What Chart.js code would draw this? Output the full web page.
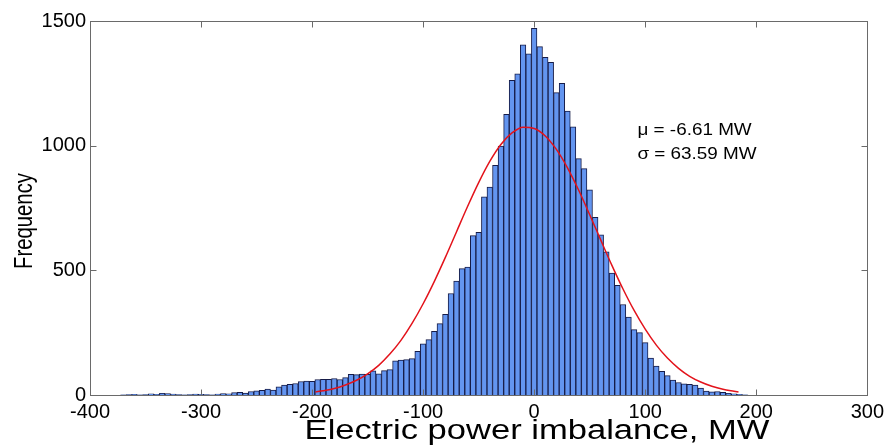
<!DOCTYPE html>
<html>
<head>
<meta charset="utf-8">
<title>Electric power imbalance histogram</title>
<script src="https://cdn.jsdelivr.net/npm/chart.js@4.4.1/dist/chart.umd.min.js"></script>
<style>
    body { margin: 0; background: #fff; }
    #wrap { width: 889px; height: 446px; }
</style>
</head>
<body>
<div id="wrap"><canvas id="myChart" width="889" height="446"></canvas></div>
<script>
// histogram bins (centre, MW) and counts
const binCenters = [
    -370, -365, -360, -355, -350, -345, -340, -335, -330, -325,
    -320, -315, -310, -305, -300, -295, -290, -285, -280, -275,
    -270, -265, -260, -255, -250, -245, -240, -235, -230, -225,
    -220, -215, -210, -205, -200, -195, -190, -185, -180, -175,
    -170, -165, -160, -155, -150, -145, -140, -135, -130, -125,
    -120, -115, -110, -105, -100, -95, -90, -85, -80, -75,
    -70, -65, -60, -55, -50, -45, -40, -35, -30, -25,
    -20, -15, -10, -5, 0, 5, 10, 15, 20, 25,
    30, 35, 40, 45, 50, 55, 60, 65, 70, 75,
    80, 85, 90, 95, 100, 105, 110, 115, 120, 125,
    130, 135, 140, 145, 150, 155, 160, 165, 170, 175,
    180, 185, 190
];
const binCounts = [
    1, 2, 3, 1, 2, 5, 3, 7, 6, 4,
    2, 1, 2, 4, 3, 2, 1, 4, 6, 5,
    10, 11, 8, 14, 17, 19, 24, 20, 33, 40,
    43, 46, 54, 56, 55, 62, 63, 63, 66, 62,
    70, 83, 82, 84, 83, 97, 85, 98, 102, 137,
    140, 142, 146, 175, 205, 222, 255, 286, 324, 407,
    457, 507, 513, 639, 652, 795, 834, 921, 998, 1126,
    1262, 1288, 1404, 1368, 1471, 1397, 1354, 1334, 1213, 1250,
    1139, 1076, 948, 908, 823, 713, 642, 574, 489, 440,
    363, 313, 262, 250, 210, 148, 116, 95, 78, 60,
    50, 45, 43, 40, 28, 16, 13, 14, 11, 7,
    5, 3, 1
];

// fitted normal curve
const fitX = [-197, -190, -180, -170, -160, -150, -140, -130, -120, -110,
    -100, -90, -80, -70, -60, -50, -40, -30, -20, -10,
    0, 10, 20, 30, 40, 50, 60, 70, 80, 90,
    100, 110, 120, 130, 140, 150, 160, 170, 180, 184];
const fitY = [12, 17, 26, 40, 59, 85, 119, 164, 219, 287,
    366, 455, 552, 654, 756, 852, 937, 1005, 1051, 1074,
    1069, 1039, 985, 911, 822, 723, 621, 520, 425, 339,
    264, 200, 148, 107, 75, 52, 35, 23, 15, 12];

const xTicks = [-400, -300, -200, -100, 0, 100, 200, 300];
const yTicks = [0, 500, 1000, 1500];
const xTitle = "Electric power imbalance, MW";
const yTitle = "Frequency";
const statsText = ["\u03bc = -6.61 MW", "\u03c3 = 63.59 MW"];

const FONT = "'Liberation Sans', Arial, sans-serif";
Chart.defaults.font.family = FONT;
Chart.defaults.color = "#000";

// the original figure is a bit wider than tall, so text is stretched sideways
function wideText(ctx, text, x, y, size, sx, rot) {
    ctx.save();
    ctx.translate(x, y);
    if (rot) ctx.rotate(rot);
    ctx.scale(sx, 1);
    ctx.font = size + "px " + FONT;
    ctx.fillText(text, 0, 0);
    ctx.restore();
}

// MATLAB style box with inward ticks, axis titles and the mu/sigma text
const boxPlugin = {
    id: "box",
    afterDatasetsDraw(chart) {
        const ctx = chart.ctx;
        const a = chart.chartArea;
        const xs = chart.scales.x, ys = chart.scales.y;
        const L = Math.round(a.left) + 0.5, R = Math.round(a.right) + 0.5;
        const T = Math.round(a.top) + 0.5, B = Math.round(a.bottom) + 0.5;
        ctx.save();
        ctx.strokeStyle = "#6a6a6a";
        ctx.lineWidth = 1;
        ctx.strokeRect(L, T, R - L, B - T);
        ctx.beginPath();
        xTicks.forEach(v => {
            const px = Math.round(xs.getPixelForValue(v)) + 0.5;
            ctx.moveTo(px, B); ctx.lineTo(px, B - 6);
            ctx.moveTo(px, T); ctx.lineTo(px, T + 6);
        });
        yTicks.forEach(v => {
            const py = Math.round(ys.getPixelForValue(v)) + 0.5;
            ctx.moveTo(L, py); ctx.lineTo(L + 6, py);
            ctx.moveTo(R, py); ctx.lineTo(R - 6, py);
        });
        ctx.stroke();

        ctx.fillStyle = "#000";
        ctx.textAlign = "center";
        ctx.textBaseline = "middle";
        wideText(ctx, xTitle, 537, 432, 27, 1.28, 0);
        wideText(ctx, yTitle, 25, 221, 26, 0.78, -Math.PI / 2);

        ctx.textAlign = "left";
        wideText(ctx, statsText[0], xs.getPixelForValue(93), ys.getPixelForValue(1060), 16, 1.18, 0);
        wideText(ctx, statsText[1], xs.getPixelForValue(93), ys.getPixelForValue(963), 16, 1.18, 0);
        ctx.restore();
    }
};

new Chart("myChart", {
    data: {
        datasets: [{
            type: "line",
            data: fitX.map((x, i) => ({x: x, y: fitY[i]})),
            borderColor: "#e3131b",
            borderWidth: 1.5,
            pointRadius: 0,
            cubicInterpolationMode: "monotone",
            order: 0
        }, {
            type: "bar",
            data: binCenters.map((x, i) => ({x: x, y: binCounts[i]})),
            backgroundColor: "rgb(99,149,240)",
            borderColor: "rgb(22,28,72)",
            borderWidth: 1,
            barPercentage: 1,
            categoryPercentage: 1,
            order: 1
        }]
    },
    options: {
        responsive: false,
        animation: false,
        events: [],
        layout: {padding: {top: 21, right: 17, left: 0, bottom: 0}},
        plugins: {
            legend: {display: false},
            tooltip: {enabled: false}
        },
        scales: {
            x: {
                type: "linear",
                min: -400,
                max: 300,
                offset: false,
                grid: {display: false, drawTicks: false},
                border: {display: false},
                ticks: {stepSize: 100, padding: 5, maxRotation: 0, autoSkip: false, font: {size: 20}},
                afterFit: function(s) { s.height = 51; }
            },
            y: {
                min: 0,
                max: 1500,
                grid: {display: false, drawTicks: false},
                border: {display: false},
                ticks: {stepSize: 500, padding: 4, font: {size: 20}, callback: v => String(v)},
                afterFit: function(s) { s.width = 90; }
            }
        }
    },
    plugins: [boxPlugin]
});
</script>
</body>
</html>
